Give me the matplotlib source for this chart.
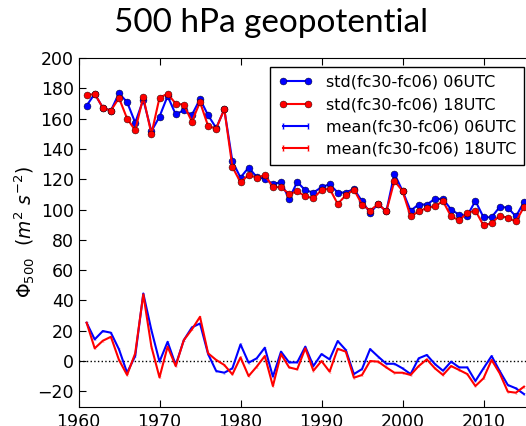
import matplotlib
matplotlib.use('Agg')
import matplotlib.pyplot as plt
from matplotlib.collections import LineCollection
from matplotlib.container import ErrorbarContainer
from matplotlib.legend_handler import HandlerErrorbar

plt.rcParams['mathtext.fontset'] = 'dejavusans'

# years 1961-2015
years = list(range(1961, 2016))

std_06 = [168.5, 176.4, 167.2, 165.3, 176.7, 170.9, 157.3, 172.5, 151.6, 161.3,
          174.9, 162.8, 165.5, 162.4, 172.9, 162.2, 153.8, 166.1, 131.8, 121.1,
          127.7, 121.5, 120.4, 116.7, 118.2, 107.0, 118.2, 112.7, 111.2, 114.7,
          116.7, 111.2, 111.2, 113.6, 105.5, 97.8, 103.7, 98.7, 123.7, 112.3,
          99.3, 103.3, 103.3, 107.0, 107.0, 100.0, 96.5, 96.0, 105.7, 94.9,
          94.9, 101.7, 101.3, 95.4, 105.0]
std_18 = [175.3, 176.4, 167.2, 165.3, 173.6, 160.0, 152.3, 174.2, 149.8, 173.8,
          176.4, 169.9, 169.2, 158.0, 170.9, 155.1, 153.4, 166.3, 128.1, 118.0,
          122.8, 121.1, 122.6, 114.9, 114.7, 110.3, 111.9, 108.8, 107.4, 112.9,
          113.8, 103.7, 109.4, 113.2, 103.3, 99.3, 103.7, 98.7, 118.9, 112.3,
          95.4, 98.7, 101.1, 102.2, 105.5, 95.4, 92.9, 97.8, 99.3, 89.5,
          91.0, 96.0, 94.5, 92.1, 101.7]
mean_06 = [25.3, 14.3, 19.8, 18.7, 7.7, -7.7, 3.3, 44.6, 20.4, -0.4,
           12.7, -2.6, 13.8, 22.2, 24.8, 4.6, -6.6, -7.7, -4.8, 11.0,
           -1.1, 1.8, 8.8, -10.3, 6.2, -0.9, -0.9, 9.5, -3.3, 4.6,
           1.1, 13.2, 7.3, -8.6, -5.3, 7.9, 2.9, -1.8, -1.8, -4.8,
           -8.6, 1.8, 4.0, -2.0, -6.4, -0.4, -4.2, -4.2, -13.2, -4.8,
           3.3, -6.6, -15.8, -18.0, -21.8]
mean_18 = [25.3, 8.4, 13.4, 16.0, 0.7, -9.2, 5.1, 44.0, 9.5, -10.8,
           9.5, -3.3, 13.8, 20.9, 29.2, 5.1, 0.7, -2.6, -8.8, 2.4,
           -9.9, -3.7, 3.3, -16.5, 4.6, -4.2, -5.5, 8.4, -6.4, 0.0,
           -7.0, 8.1, 6.2, -11.0, -9.2, 0.0, -0.4, -4.2, -7.7, -7.7,
           -9.2, -3.3, 1.1, -4.8, -9.2, -3.3, -5.9, -8.6, -16.5, -11.4,
           0.7, -8.1, -20.2, -20.9, -16.9]
mean_err = 0.6

fig = plt.figure(figsize=(5.26, 4.26), dpi=100)
# axes runs past the right edge of the figure (cropped like the original)
ax = fig.add_axes([78.5 / 526, 1 - 406.5 / 426, 486 / 526, 348.5 / 426])

ax.plot(years, std_06, 'b-', marker='o', markersize=5, lw=1.5,
        markeredgecolor='k', markeredgewidth=0.3, label='std(fc30-fc06) 06UTC')
ax.plot(years, std_18, 'r-', marker='o', markersize=5, lw=1.5,
        markeredgecolor='k', markeredgewidth=0.3, label='std(fc30-fc06) 18UTC')
ax.errorbar(years, mean_06, yerr=mean_err, color='b', lw=1.5, elinewidth=0.4,
            capsize=1, capthick=0.4, ecolor=(0.6, 0.6, 1.0),
            label='mean(fc30-fc06) 06UTC')
ax.errorbar(years, mean_18, yerr=mean_err, color='r', lw=1.5, elinewidth=0.4,
            capsize=1, capthick=0.4, ecolor=(1.0, 0.6, 0.6),
            label='mean(fc30-fc06) 18UTC')
ax.axhline(0, color='k', ls=':', lw=1)

ax.set_xlim(1960, 2020)
ax.set_ylim(-30, 200)
ax.set_xticks(range(1960, 2020, 10))
ax.set_yticks(range(-20, 201, 20))
ax.tick_params(direction='in', length=5, top=True, right=True, labelsize=12.5)
ax.tick_params(axis='x', pad=5)
ax.set_ylabel(r'$\Phi_{500}$  $(m^2\ s^{-2})$', fontsize=13.5, labelpad=0)

leg = ax.legend(loc='upper right', bbox_to_anchor=(532 / 526, 1 - 59 / 426),
                bbox_transform=fig.transFigure, numpoints=2, fontsize=11.5,
                fancybox=False, framealpha=1, edgecolor='k',
                handlelength=2.2, borderpad=0.5, labelspacing=0.45,
                handler_map={ErrorbarContainer: HandlerErrorbar(yerr_size=0.2)})
leg.get_frame().set_linewidth(1)
# make the small end bars in the legend handles visible
for coll in leg.findobj(LineCollection):
    c = coll.get_color()[0]
    coll.set_color('b' if c[2] > c[0] else 'r')
    coll.set_linewidth(1)

fig.text(271 / 526, 1 - 23 / 426, '500 hPa geopotential', ha='center', va='center',
         fontsize=24, family='Lato')

fig.savefig('out.png', dpi=100)
